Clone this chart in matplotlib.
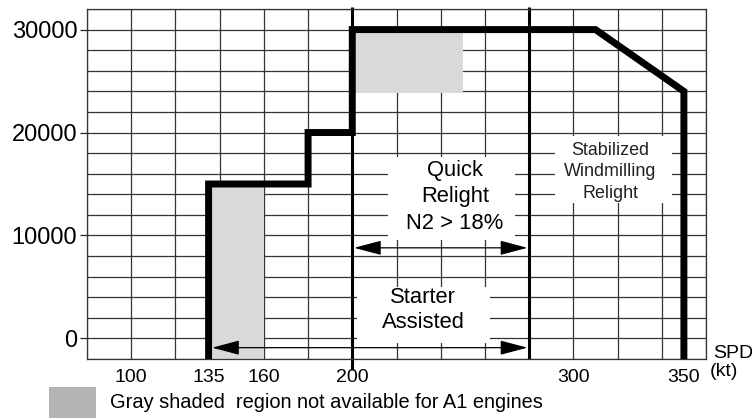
import matplotlib
matplotlib.use("Agg")
import matplotlib.pyplot as plt
from matplotlib.patches import Rectangle, FancyArrowPatch
import numpy as np

plt.rcParams['font.family'] = ['Liberation Sans', 'DejaVu Sans']

# ---- data ----
env_speed = [135, 135, 180, 180, 200, 200, 310, 350, 350]          # kt
env_alt = [-2000, 15000, 15000, 20000, 20000, 30000, 30000, 24000, -2000]  # ft
shade1_x = [135, 160]
shade1_y = [-2000, 15000]
shade2_x = [200, 250]
shade2_y = [23800, 30000]
quick_min = 200
starter_max = 280
xtick_vals = [100, 135, 160, 200, 300, 350]
ytick_vals = [0, 10000, 20000, 30000]
x_range = (80, 360)
y_range = (-2000, 32000)

W, H = 752, 418
fig = plt.figure(figsize=(W / 100, H / 100), dpi=100)
ax = fig.add_axes([87 / W, 1 - 359 / H, (706 - 87) / W, (359 - 9) / H])
ax.set_xlim(*x_range)
ax.set_ylim(*y_range)
ax.xaxis.remove_overlapping_locs = False
ax.yaxis.remove_overlapping_locs = False

grid_col = '#333333'
ax.set_xticks(np.arange(x_range[0], x_range[1] + 1, 20), minor=True)
ax.set_yticks(np.arange(y_range[0], y_range[1] + 1, 2000), minor=True)
ax.grid(which='minor', color=grid_col, lw=0.9)
ax.grid(which='major', visible=False)
ax.set_axisbelow(True)
for s in ax.spines.values():
    s.set_color(grid_col)
    s.set_linewidth(0.9)

ax.set_xticks(xtick_vals)
ax.set_xticklabels([str(v) for v in xtick_vals])
ax.set_yticks(ytick_vals)
ax.set_yticklabels([str(v) for v in ytick_vals])
ax.tick_params(axis='x', which='major', length=0, pad=7, labelsize=14)
ax.tick_params(axis='y', which='major', length=5, width=0.9, color='#222', pad=2, labelsize=17)
ax.tick_params(which='minor', length=0)

# white boxes behind texts
for (x0, x1, y0, y1) in [(216.2, 273.5, 9600, 17600),
                         (202.3, 262.3, -480, 4950),
                         (291.8, 344.7, 13200, 19700)]:
    ax.add_patch(Rectangle((x0, y0), x1 - x0, y1 - y0, facecolor='white',
                           edgecolor='none', zorder=1))

# gray shaded regions
gray = '#d9d9d9'
ax.add_patch(Rectangle((shade1_x[0], shade1_y[0]), shade1_x[1] - shade1_x[0],
                       shade1_y[1] - shade1_y[0], facecolor=gray, edgecolor='none', zorder=1.2))
ax.add_patch(Rectangle((shade2_x[0], shade2_y[0]), shade2_x[1] - shade2_x[0],
                       shade2_y[1] - shade2_y[0], facecolor=gray, edgecolor='none', zorder=1.2))

# boundary lines
ax.plot([quick_min, quick_min], [-3100, 32200], color='black', lw=2.2,
        solid_capstyle='butt', clip_on=False, zorder=2.5)
ax.plot([starter_max, starter_max], [-2000, 32200], color='black', lw=2.2,
        solid_capstyle='butt', clip_on=False, zorder=2.5)

# envelope
ax.plot(env_speed, env_alt, color='black', lw=5, solid_joinstyle='miter',
        solid_capstyle='butt', clip_on=False, zorder=3)

# arrows
def darrow(x0, x1, y):
    ax.add_patch(FancyArrowPatch((x0, y), (x1, y),
                                 arrowstyle='<|-|>,head_length=17,head_width=4.5',
                                 mutation_scale=1, lw=0.9, color='black',
                                 shrinkA=0, shrinkB=0, zorder=2.8))

darrow(quick_min + 0.8, starter_max - 0.8, 8800)
darrow(env_speed[0] + 1.6, starter_max - 0.8, -900)

# labels
fs = 15.8
ax.text(246.5, 16300, 'Quick', ha='center', va='center', fontsize=fs, zorder=4)
ax.text(246.5, 13800, 'Relight', ha='center', va='center', fontsize=fs, zorder=4)
ax.text(246.5, 11200, 'N2 > 18%', ha='center', va='center', fontsize=fs, zorder=4)
ax.text(232, 4000, 'Starter', ha='center', va='center', fontsize=fs, zorder=4)
ax.text(232, 1500, 'Assisted', ha='center', va='center', fontsize=fs, zorder=4)
fs2 = 12.9
ax.text(316.6, 18300, 'Stabilized', ha='center', va='center', fontsize=fs2, color='#222', zorder=4)
ax.text(316.6, 16200, 'Windmilling', ha='center', va='center', fontsize=fs2, color='#222', zorder=4)
ax.text(316.6, 14100, 'Relight', ha='center', va='center', fontsize=fs2, color='#222', zorder=4)

fig.text(713 / W, 1 - 353 / H, 'SPD', ha='left', va='center', fontsize=14)
fig.text(710 / W, 1 - 372 / H, '(kt)', ha='left', va='center', fontsize=14)

# legend swatch
fig.patches.append(Rectangle((49 / W, 0), 47 / W, (418 - 387) / H, facecolor='#b3b3b3',
                             edgecolor='none', transform=fig.transFigure, figure=fig))
fig.text(110 / W, 1 - 403 / H, 'Gray shaded  region not available for A1 engines',
         ha='left', va='center', fontsize=14.4)

fig.savefig('out.png', dpi=100)
